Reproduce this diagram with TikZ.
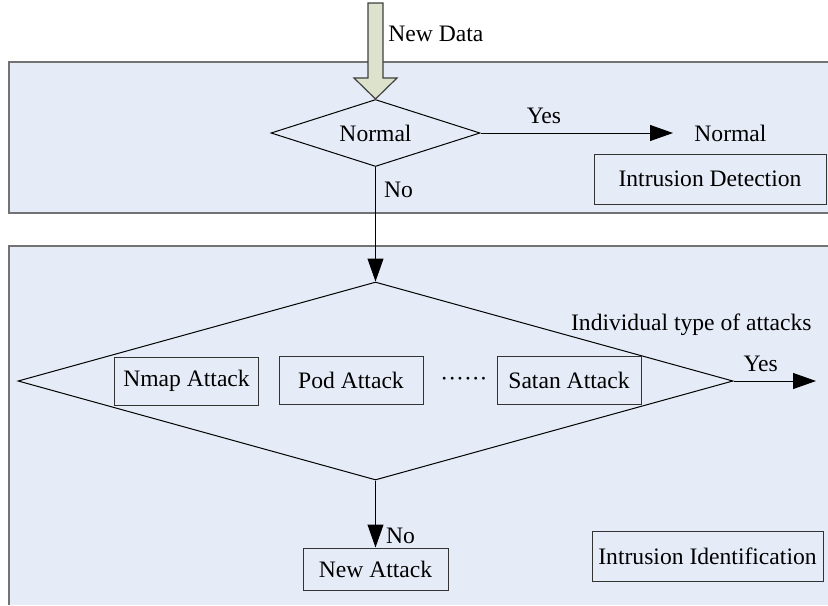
\documentclass[tikz,border=0pt]{standalone}
\usepackage{fontspec}
\setmainfont{Liberation Serif}
\usetikzlibrary{shapes.geometric,arrows.meta}
\definecolor{panelblue}{RGB}{230,236,247}
\definecolor{arrowgreen}{RGB}{221,226,204}
\tikzset{
  panel/.style={fill=panelblue},
  paneledge/.style={draw=black!55,line width=1pt},
  decision/.style={draw,diamond,inner sep=0pt,line width=0.5pt},
  attack/.style={draw=black!80,fill=panelblue,minimum width=72pt,minimum height=24pt,inner sep=0pt,line width=0.5pt},
  tag/.style={inner sep=1pt},
  flow/.style={line width=0.5pt,-{Triangle[length=11.5pt,width=8pt]}},
  bigarrow/.style={draw=black!75,fill=arrowgreen,line width=0.6pt}
}

\begin{document}
\begin{tikzpicture}[x=0.5pt,y=-0.5pt,font=\fontsize{11.8}{14}\selectfont]
  \useasboundingbox (0,0) rectangle (828,605);
  % panels
  \fill[panel] (9,62) rectangle (828,213);
  \draw[paneledge] (828,62) -- (9,62) -- (9,213) -- (828,213);
  \fill[panel] (9,246) rectangle (828,605);
  \draw[paneledge] (828,246) -- (9,246) -- (9,605);
  % intrusion detection
  \node[decision,minimum width=104.5pt,minimum height=33.5pt,aspect=3.12] (normal) at (375.5,133) {Normal};
  \draw[bigarrow] (368,3) -- (368,78) -- (354,78) -- (normal.north) -- (397,78) -- (383,78) -- (383,3) -- cycle;
  \node[tag,anchor=west] (newdata) at (386,34) {New Data};
  \node[tag,anchor=west] (outnormal) at (692,133) {Normal};
  \draw[flow,shorten >=9.5pt] (normal.east) -- (outnormal.west) node[tag,pos=0.3,above=3.5pt] {Yes};
  \node[attack,minimum width=116pt,minimum height=25pt] (detect) at (710,179) {Intrusion Detection};
  % intrusion identification
  \node[decision,minimum width=357.5pt,minimum height=99pt] (attacks) at (375.5,381) {};
  \draw[flow] (normal.south) -- (attacks.north) node[tag,pos=0.2,right=3pt] {No};
  \node[attack] (nmap) at (186.5,381) {Nmap Attack};
  \node[attack] (pod) at (351,380) {Pod Attack};
  \node[tag] (dots) at (464,382) {······};
  \node[attack] (satan) at (569,380) {Satan Attack};
  \node[tag,anchor=base east] (typelabel) at (814,330) {Individual type of attacks};
  \coordinate (yesend) at (816,381);
  \draw[flow] (attacks.east) -- (yesend) node[tag,pos=0.33,above=3.5pt] {Yes};
  \node[attack,minimum width=72.5pt,minimum height=21pt] (newattack) at (375.5,569) {New Attack};
  \draw[flow] (attacks.south) -- (newattack.north) node[tag,pos=0.82,right=4pt] {No};
  \node[attack,minimum width=115.5pt,minimum height=25pt] (identify) at (707.5,556) {Intrusion Identification};
\end{tikzpicture}
\end{document}
